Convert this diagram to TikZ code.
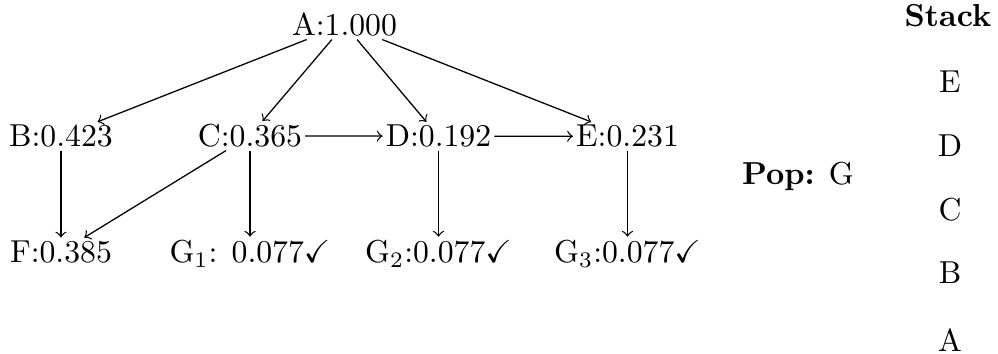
\documentclass[tikz,border=0pt]{standalone}
\usepackage{amssymb}
\begin{document}
\begin{tikzpicture}[x=0.315pt,y=-0.315pt,
  every node/.style={inner sep=1pt,outer sep=0pt,anchor=base},
  edge/.style={->}]
\useasboundingbox (0,0) rectangle (998,354);

% search tree with probabilities
\node (A)  at (344.5,35.7)  {A:1.000};
\node (B)  at (61,146.7)    {B:0.423};
\node (C)  at (250,146.7)   {C:0.365};
\node (D)  at (438.5,146.7) {D:0.192};
\node (E)  at (627.5,146.7) {E:0.231};
\node (F)  at (61,262.3)    {F:0.385};
\node (G1) at (250,262.3)   {G$_1$: 0.077$\checkmark$};
\node (G2) at (438.5,262.3) {G$_2$:0.077$\checkmark$};
\node (G3) at (627.5,262.3) {G$_3$:0.077$\checkmark$};

\draw[edge] (A) -- (B);
\draw[edge] (A) -- (C);
\draw[edge] (A) -- (D);
\draw[edge] (A) -- (E);
\draw[edge] (C) -- (D);
\draw[edge] (D) -- (E);
\draw[edge] (B) -- (F);
\draw[edge] (C) -- (F);
\draw[edge] (C) -- (G1);
\draw[edge] (D) -- (G2);
\draw[edge] (E) -- (G3);

% popped element
\node (pop) at (798,185) {\textbf{Pop:} G};

% stack contents
\node (stk) at (948,26.7) {\textbf{Stack}};
\node (sE) at (950,93)    {E};
\node (sD) at (950,157)   {D};
\node (sC) at (950,220.5) {C};
\node (sB) at (950,284)   {B};
\node (sA) at (950,352)   {A};
\end{tikzpicture}
\end{document}
